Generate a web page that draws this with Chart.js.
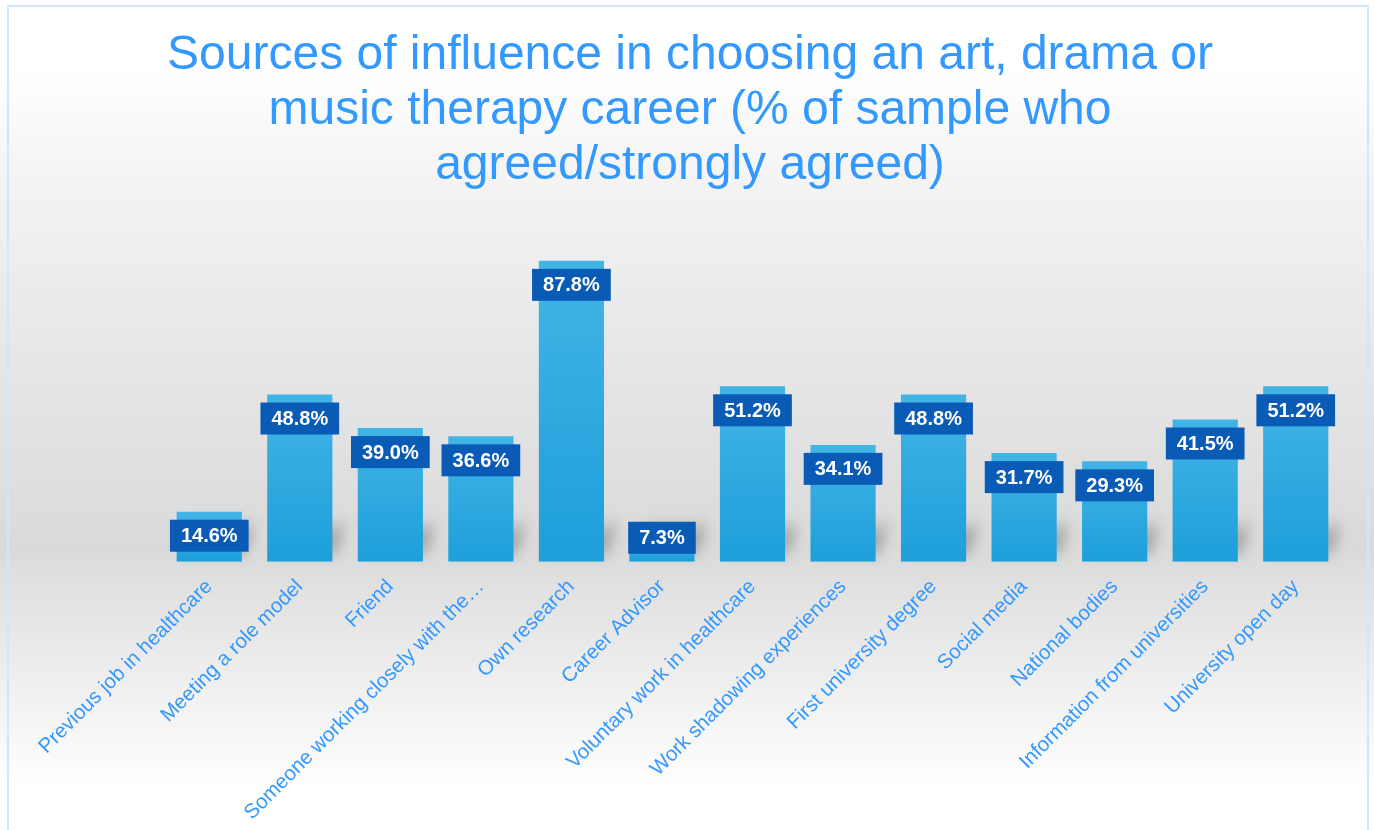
<!DOCTYPE html>
<html>
<head>
<meta charset="utf-8">
<script src="https://cdn.jsdelivr.net/npm/chart.js@4.4.1/dist/chart.umd.min.js"></script>
<style>
  html, body { margin: 0; padding: 0; background: #fff; }
  #wrap { width: 1374px; height: 830px; position: relative; }
</style>
</head>
<body>
<div id="wrap"><canvas id="influenceChart"></canvas></div>
<script>
const categories = [
  "Previous job in healthcare",
  "Meeting a role model",
  "Friend",
  "Someone working closely with the\u2026",
  "Own research",
  "Career Advisor",
  "Voluntary work in healthcare",
  "Work shadowing experiences",
  "First university degree",
  "Social media",
  "National bodies",
  "Information from universities",
  "University open day"
];
const agreedPct = [14.6, 48.8, 39.0, 36.6, 87.8, 7.3, 51.2, 34.1, 48.8, 31.7, 29.3, 41.5, 51.2];
const titleLines = [
  "Sources of influence in choosing an art, drama or",
  "music therapy career (% of sample who",
  "agreed/strongly agreed)"
];

const FONT = "'Liberation Sans', Arial, sans-serif";

// page background + thin blue frame
const backdrop = {
  id: "backdrop",
  beforeDraw(chart) {
    const { ctx, width, height } = chart;
    ctx.save();
    const g = ctx.createLinearGradient(0, 0, 0, height);
    g.addColorStop(0, "#ffffff");
    g.addColorStop(0.08, "#ffffff");
    g.addColorStop(0.25, "#f1f1f1");
    g.addColorStop(0.66, "#dadada");
    g.addColorStop(0.71, "#e1e1e1");
    g.addColorStop(0.95, "#ffffff");
    g.addColorStop(1, "#ffffff");
    ctx.fillStyle = g;
    ctx.fillRect(0, 0, width, height);
    ctx.strokeStyle = "#d2e6fb";
    ctx.lineWidth = 2;
    ctx.strokeRect(8, 6, width - 14, height + 10);
    ctx.restore();
  }
};

// soft shadow to the right of each bar
const barShadows = {
  id: "barShadows",
  beforeDatasetsDraw(chart) {
    const { ctx } = chart;
    const bars = chart.getDatasetMeta(0).data;
    ctx.save();
    ctx.filter = "blur(6px)";
    bars.forEach((b) => {
      const left = b.x - b.width / 2;
      const right = b.x + b.width / 2;
      const h = Math.min(45, b.base - b.y + 20);
      const g = ctx.createLinearGradient(0, b.base - h, 0, b.base);
      g.addColorStop(0, "rgba(120,120,120,0)");
      g.addColorStop(0.5, "rgba(120,120,120,0.55)");
      g.addColorStop(1, "rgba(120,120,120,0.15)");
      ctx.fillStyle = g;
      ctx.beginPath();
      ctx.moveTo(left + 8, b.base - 4);
      ctx.lineTo(right + 4, b.base - 4);
      ctx.lineTo(right + 16, b.base - h);
      ctx.lineTo(left + 20, b.base - h);
      ctx.closePath();
      ctx.fill();
    });
    ctx.restore();
  }
};

// dark blue value boxes inside the bar tops
const valueBoxes = {
  id: "valueBoxes",
  afterDatasetsDraw(chart) {
    const { ctx } = chart;
    const bars = chart.getDatasetMeta(0).data;
    ctx.save();
    ctx.font = "bold 20px " + FONT;
    ctx.textAlign = "center";
    ctx.textBaseline = "middle";
    bars.forEach((b, i) => {
      const txt = agreedPct[i].toFixed(1) + "%";
      const w = ctx.measureText(txt).width + 22;
      const h = 32;
      const top = Math.min(b.y + 8, b.base - 8 - h);
      ctx.fillStyle = "#0a5bb6";
      ctx.fillRect(b.x - w / 2, top, w, h);
      ctx.fillStyle = "#ffffff";
      ctx.fillText(txt, b.x, top + h / 2 + 1);
    });
    ctx.restore();
  }
};

const ctx = document.getElementById("influenceChart").getContext("2d");
const influenceChart = new Chart(ctx, {
  type: "bar",
  data: {
    labels: categories,
    datasets: [
      {
        label: "% agreed/strongly agreed",
        data: agreedPct,
        backgroundColor: (c) => {
          const chart = c.chart;
          if (!chart.chartArea || c.type !== "data") return "#2aa8e0";
          const y = chart.scales.y;
          const top = y.getPixelForValue(c.raw);
          const bottom = y.getPixelForValue(0);
          const g = chart.ctx.createLinearGradient(0, top, 0, bottom);
          g.addColorStop(0, "#42b4e6");
          g.addColorStop(1, "#1d9fda");
          return g;
        },
        borderWidth: 0,
        barPercentage: 0.72,
        categoryPercentage: 1.0,
      },
    ],
  },
  options: {
    responsive: true,
    maintainAspectRatio: false,
    animation: false,
    layout: {
      padding: { left: 39, right: 33, top: 0, bottom: 0 },
    },
    plugins: {
      legend: { display: false },
      tooltip: { enabled: false },
      title: {
        display: true,
        text: titleLines,
        color: "#3399ff",
        font: { family: FONT, size: 48, weight: "normal", lineHeight: 1.146 },
        padding: { top: 28, bottom: 26 },
      },
    },
    scales: {
      x: {
        grid: { display: false },
        border: { display: false },
        ticks: {
          color: "#3399ff",
          font: { family: FONT, size: 20.5 },
          maxRotation: 45,
          minRotation: 45,
          autoSkip: false,
          padding: 5,
        },
        // leave room on the left for the first slanted label, as in the original
        afterFit: (scale) => {
          scale.paddingLeft = 164;
        },
      },
      y: {
        display: false,
        min: 0,
        max: 100,
      },
    },
  },
  plugins: [backdrop, barShadows, valueBoxes],
});
</script>
</body>
</html>
